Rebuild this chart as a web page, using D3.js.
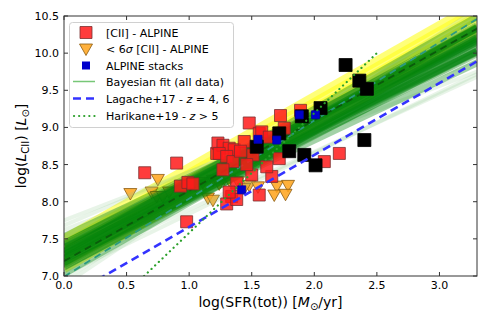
<!DOCTYPE html>
<html>
<head>
<meta charset="utf-8">
<script src="https://cdn.jsdelivr.net/npm/d3@7"></script>
<style>
  body { margin: 0; background: #fff; }
  svg { display: block; font-family: "DejaVu Sans", sans-serif; }
</style>
</head>
<body>
<div id="container"></div>
<script>
// [CII] detections
const detSfr = [0.645, 0.90, 0.98, 0.93, 0.99, 1.22, 1.23, 1.48, 1.56, 1.27, 1.32, 1.36, 1.24, 1.44,
    1.30, 1.35, 1.27, 1.34, 1.30, 1.38, 1.56, 1.50, 1.66, 1.38, 1.32, 1.73, 1.89, 1.58, 1.64, 1.76,
    1.72, 1.51, 1.62, 2.08, 2.20, 1.41, 1.03, 1.46];
const detLcii = [8.39, 8.52, 7.73, 8.21, 8.26, 8.65, 8.79, 9.06, 8.92, 8.76, 8.72, 8.70, 8.65, 8.81,
    8.61, 8.54, 8.43, 8.07, 7.97, 8.03, 8.09, 8.36, 8.34, 8.25, 8.13, 9.16, 9.23, 8.94, 8.87, 8.99,
    8.58, 8.63, 8.47, 8.54, 8.65, 8.68, 8.24, 8.50];
// < 6 sigma upper limits
const limSfr = [0.53, 0.75, 0.70, 0.74, 0.79, 0.84, 1.11, 1.15, 1.19, 1.28, 1.39, 1.48, 1.44, 1.19,
    1.24, 1.32, 1.70, 1.79, 1.68, 1.77, 1.05, 1.55];
const limLcii = [8.11, 8.30, 8.13, 8.07, 8.07, 8.13, 8.26, 8.05, 8.29, 8.31, 8.27, 8.22, 8.18, 8.02,
    8.24, 8.29, 8.21, 8.22, 8.09, 8.10, 8.22, 8.20];
// stacks
const stackSfr = [1.42, 1.55, 1.70, 1.88, 2.01];
const stackLcii = [8.16, 8.84, 8.83, 9.17, 9.17];
// other samples (black)
const otherSfr = [1.54, 1.72, 1.80, 1.92, 2.01, 1.90, 2.05, 2.40, 2.25, 2.36, 2.42];
const otherLcii = [8.74, 8.92, 8.68, 8.63, 8.49, 9.15, 9.26, 8.83, 9.84, 9.63, 9.52];

// posterior fit samples: value at SFR=0 and at SFR=3.3
const fitX = [0, 3.3];
const greenStart = [7.33, 7.53, 7.43, 7.29, 7.42, 7.18, 7.38, 7.28, 7.24, 7.32, 7.15, 7.28, 7.03, 7.23,
    7.13, 7.38, 7.18, 7.34, 7.44, 7.12, 7.22, 7.24, 7.32];
const greenEnd = [10.49, 10.17, 10.33, 10.35, 10.15, 10.34, 10.02, 10.18, 10.24, 10.12, 10.21, 10.01, 10.19, 9.87,
    10.03, 10.28, 10.08, 10.37, 10.21, 10.15, 9.99, 10.34, 10.02];
const faintStart = [7.75, 6.88, 7.62, 7.02, 7.68, 6.95, 7.12];
const faintEnd = [9.90, 10.60, 9.75, 9.72, 10.05, 10.45, 9.68];
const yellowStart = [7.50, 7.42, 7.34, 7.26, 7.18, 7.10];
const yellowEnd = [10.66, 10.58, 10.50, 10.42, 10.34, 10.26];
const meanLines = { teal: [6.99, 10.46], dark: [7.20, 10.33] };

// literature relations
const lagacheX = [0, 3.3];
const lagacheY = [6.69, 9.89];
const harikaneX = [0.64, 2.50];
const harikaneY = [7.0, 10.0];

const xTicks = [0, 0.5, 1.0, 1.5, 2.0, 2.5, 3.0];
const yTicks = [7.0, 7.5, 8.0, 8.5, 9.0, 9.5, 10.0, 10.5];

const W = 491, H = 327;
const margin = { top: 16, right: 14, bottom: 51, left: 64 };

const svg = d3.select('#container').append('svg')
    .attr('width', W).attr('height', H);

const x = d3.scaleLinear().domain([0, 3.3]).range([margin.left, W - margin.right]);
const y = d3.scaleLinear().domain([7.0, 10.5]).range([H - margin.bottom, margin.top]);

svg.append('clipPath').attr('id', 'plot-clip')
    .append('rect')
    .attr('x', x(0)).attr('y', y(10.5))
    .attr('width', x(3.3) - x(0)).attr('height', y(7.0) - y(10.5));

const plot = svg.append('g').attr('clip-path', 'url(#plot-clip)');
const line = d3.line().x(d => x(d[0])).y(d => y(d[1]));

function drawFits(starts, ends, color, opacity, widthPx) {
    starts.forEach((s, i) => {
        plot.append('path')
            .attr('d', line([[fitX[0], s], [fitX[1], ends[i]]]))
            .attr('stroke', color)
            .attr('stroke-opacity', opacity)
            .attr('stroke-width', widthPx)
            .attr('fill', 'none');
    });
}

const squarePath = s => `M${-s / 2},${-s / 2}h${s}v${s}h${-s}Z`;
const triPath = 'M-6.5,-5L6.5,-5L0,6.5Z';

function drawSquares(xs, ys, size, fill, stroke, opacity) {
    plot.append('g').selectAll('path')
        .data(xs.map((v, i) => [v, ys[i]]))
        .join('path')
        .attr('transform', d => `translate(${x(d[0])},${y(d[1])})`)
        .attr('d', squarePath(size))
        .attr('fill', fill)
        .attr('fill-opacity', opacity)
        .attr('stroke', stroke)
        .attr('stroke-width', 0.8);
}

// yellow fit band
drawFits(yellowStart, yellowEnd, '#ffff20', 0.6, 9);

// upper limits sit under the green band
plot.append('g').selectAll('path')
    .data(limSfr.map((v, i) => [v, limLcii[i]]))
    .join('path')
    .attr('transform', d => `translate(${x(d[0])},${y(d[1])})`)
    .attr('d', triPath)
    .attr('fill', '#ffa31a')
    .attr('fill-opacity', 0.85)
    .attr('stroke', '#8a5a10')
    .attr('stroke-width', 0.8);

// green fit band
drawFits(faintStart, faintEnd, '#8cc88c', 0.2, 4);
drawFits(greenStart, greenEnd, '#00820a', 0.36, 7);

// mean fit lines
plot.append('path').attr('d', line([[0, meanLines.teal[0]], [3.3, meanLines.teal[1]]]))
    .attr('stroke', '#2a9a80').attr('stroke-width', 1.8).attr('stroke-dasharray', '7,5').attr('fill', 'none');
plot.append('path').attr('d', line([[0, meanLines.dark[0]], [3.3, meanLines.dark[1]]]))
    .attr('stroke', '#0b5a0b').attr('stroke-width', 1.8).attr('stroke-dasharray', '7,5').attr('fill', 'none');

drawSquares(detSfr, detLcii, 12, '#ff1a1a', '#7a3030', 0.85);
drawSquares(otherSfr, otherLcii, 13, '#000', '#000', 1);
drawSquares(stackSfr, stackLcii, 8, '#0000cc', '#0000aa', 1);

// literature
plot.append('path').attr('d', line(lagacheX.map((v, i) => [v, lagacheY[i]])))
    .attr('stroke', '#3333ff').attr('stroke-width', 2.6).attr('stroke-dasharray', '8,5').attr('fill', 'none');
plot.append('path').attr('d', line(harikaneX.map((v, i) => [v, harikaneY[i]])))
    .attr('stroke', '#2ca02c').attr('stroke-width', 2.2).attr('stroke-linecap', 'round')
    .attr('stroke-dasharray', '0.1,5').attr('fill', 'none');

// frame and ticks
const x0 = x(0), x1 = x(3.3), y0 = y(7.0), y1 = y(10.5);
svg.append('rect').attr('x', x0).attr('y', y1).attr('width', x1 - x0).attr('height', y0 - y1)
    .attr('fill', 'none').attr('stroke', '#333').attr('stroke-width', 1);

const tickLen = 4;
const ticks = svg.append('g').attr('stroke', '#333').attr('stroke-width', 1);
xTicks.forEach(t => {
    ticks.append('line').attr('x1', x(t)).attr('x2', x(t)).attr('y1', y0).attr('y2', y0 - tickLen);
    ticks.append('line').attr('x1', x(t)).attr('x2', x(t)).attr('y1', y1).attr('y2', y1 + tickLen);
    svg.append('text').attr('x', x(t)).attr('y', y0 + 13)
        .attr('text-anchor', 'middle').attr('font-size', 11).attr('fill', '#000')
        .text(t.toFixed(1));
});
yTicks.forEach(t => {
    ticks.append('line').attr('x1', x0).attr('x2', x0 + tickLen).attr('y1', y(t)).attr('y2', y(t));
    ticks.append('line').attr('x1', x1).attr('x2', x1 - tickLen).attr('y1', y(t)).attr('y2', y(t));
    svg.append('text').attr('x', x0 - 5).attr('y', y(t) + 4)
        .attr('text-anchor', 'end').attr('font-size', 11).attr('fill', '#000')
        .text(t.toFixed(1));
});

// axis labels
const xl = svg.append('text').attr('x', (x0 + x1) / 2).attr('y', 307)
    .attr('text-anchor', 'middle').attr('font-size', 14);
xl.append('tspan').text('log(SFR(tot)) [');
xl.append('tspan').attr('font-style', 'italic').text('M');
xl.append('tspan').attr('font-size', 10).attr('dy', 3).text('⊙');
xl.append('tspan').attr('dy', -3).text('/yr]');

const yl = svg.append('text')
    .attr('transform', `translate(26,${(y0 + y1) / 2}) rotate(-90)`)
    .attr('text-anchor', 'middle').attr('font-size', 14);
yl.append('tspan').text('log(');
yl.append('tspan').attr('font-style', 'italic').text('L');
yl.append('tspan').attr('font-size', 10).attr('dy', 3).text('CII');
yl.append('tspan').attr('dy', -3).text(') [');
yl.append('tspan').attr('font-style', 'italic').text('L');
yl.append('tspan').attr('font-size', 10).attr('dy', 3).text('⊙');
yl.append('tspan').attr('dy', -3).text(']');

// legend
const legend = svg.append('g');
legend.append('rect').attr('x', 69.5).attr('y', 22.5).attr('width', 164).attr('height', 105)
    .attr('rx', 3).attr('fill', '#fff').attr('fill-opacity', 0.8)
    .attr('stroke', '#d0d0d0').attr('stroke-width', 1);
const lx = 84, tx = 106;
const rows = [32.5, 49, 65.5, 81.5, 98.5, 116];
legend.append('path').attr('transform', `translate(${lx + 2},${rows[0]})`).attr('d', squarePath(12))
    .attr('fill', '#ff1a1a').attr('fill-opacity', 0.85).attr('stroke', '#7a3030').attr('stroke-width', 0.8);
legend.append('path').attr('transform', `translate(${lx + 2},${rows[1]})`).attr('d', triPath)
    .attr('fill', '#ffa31a').attr('fill-opacity', 0.85).attr('stroke', '#8a5a10').attr('stroke-width', 0.8);
legend.append('path').attr('transform', `translate(${lx + 2},${rows[2]})`).attr('d', squarePath(8))
    .attr('fill', '#0000cc');
legend.append('line').attr('x1', 73).attr('x2', 95).attr('y1', rows[3]).attr('y2', rows[3])
    .attr('stroke', '#77c777').attr('stroke-width', 1.5);
legend.append('line').attr('x1', 73).attr('x2', 95).attr('y1', rows[4]).attr('y2', rows[4])
    .attr('stroke', '#3333ff').attr('stroke-width', 2.6).attr('stroke-dasharray', '8,5');
legend.append('line').attr('x1', 74).attr('x2', 95).attr('y1', rows[5]).attr('y2', rows[5])
    .attr('stroke', '#2ca02c').attr('stroke-width', 2.2).attr('stroke-linecap', 'round')
    .attr('stroke-dasharray', '0.1,5');

function legendText(row) {
    return legend.append('text').attr('x', tx).attr('y', rows[row] + 4).attr('font-size', 11);
}
legendText(0).text('[CII] - ALPINE');
const t1 = legendText(1);
t1.append('tspan').text('< 6');
t1.append('tspan').attr('font-style', 'italic').text('σ');
t1.append('tspan').text(' [CII] - ALPINE');
legendText(2).text('ALPINE stacks');
legendText(3).text('Bayesian fit (all data)');
const t4 = legendText(4);
t4.append('tspan').text('Lagache+17 - ');
t4.append('tspan').attr('font-style', 'italic').text('z');
t4.append('tspan').text(' = 4, 6');
const t5 = legendText(5);
t5.append('tspan').text('Harikane+19 - ');
t5.append('tspan').attr('font-style', 'italic').text('z');
t5.append('tspan').text(' > 5');
</script>
</body>
</html>
